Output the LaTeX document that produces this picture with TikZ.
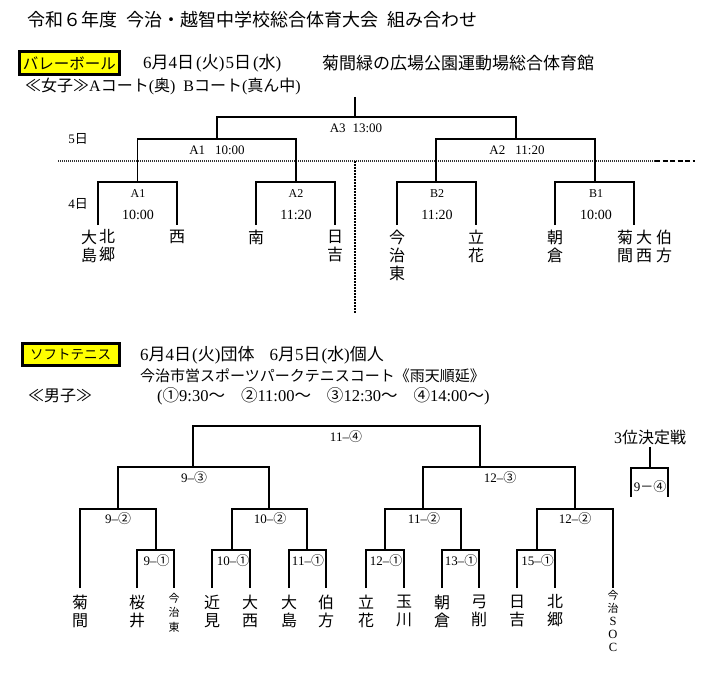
\documentclass[tikz,border=0pt]{standalone}
\usepackage{fontspec}
\setmainfont{Liberation Serif}
\newfontfamily\jp{Noto Sans CJK JP}
\newcommand\J[1]{{\jp #1}}
\definecolor{vy}{RGB}{255,255,0}
\begin{document}
\begin{tikzpicture}[x=1pt,y=-1pt,
  vb/.style={line width=1.6pt},
  tb/.style={line width=1.9pt},
  nm/.style={inner sep=0pt, align=center, font=\jp\fontsize{16}{18}\selectfont},
  lab/.style={inner sep=0pt, font=\fontsize{13}{13}\selectfont},
  hd/.style={inner sep=0pt, anchor=west},
  ybox/.style={draw, line width=3pt, fill=vy, inner sep=0pt},
  dotline/.style={line width=1.6pt, dash pattern=on 1.2pt off 0.8pt, black!80},
  dashline/.style={line width=1.6pt, dash pattern=on 5pt off 2.5pt},
  vdash/.style={line width=2pt, dash pattern=on 2pt off 1pt},
]
\useasboundingbox (0,0) rectangle (718,674);

% ---------- title ----------
\node[hd, font=\jp\fontsize{18}{18}\selectfont] (title) at (27,20)
  {令和６年度\hspace{9pt}今治・越智中学校総合体育大会\hspace{9pt}組み合わせ};

% ---------- volleyball header ----------
\node[ybox, minimum width=99.4pt, minimum height=23pt, font=\jp\fontsize{15.5}{15.5}\selectfont] (vbox) at (69.5,63) {バレーボール};
\node[hd, font=\fontsize{17}{17}\selectfont] (vdate) at (143,63) {6\J{月}4\J{日}\hspace{2pt}(\J{火})\hspace{1pt}5\J{日}\hspace{2pt}(\J{水})};
\node[hd, font=\jp\fontsize{17}{17}\selectfont] (vplace) at (322,63) {菊間緑の広場公園運動場総合体育館};
\node[hd, font=\fontsize{16}{16}\selectfont] (vcourt) at (25,86) {\J{≪女子≫}A\J{コート}(\J{奥})\hspace{8pt}B\J{コート}(\J{真ん中})};

% ---------- volleyball separators ----------
\coordinate (dl) at (58,161);
\coordinate (dm) at (655,161);
\coordinate (dr) at (695,161);
\coordinate (vdt) at (355,161);
\coordinate (vdb) at (355,313);
\draw[dotline] (dl) -- (dm);
\draw[dashline] (dm) -- (dr);
\draw[vdash] (vdt) -- (vdb);

% ---------- volleyball bracket ----------
\coordinate (vtop) at (355,97);
\coordinate (vF) at (355,117);
\coordinate (vS1) at (217,139);
\coordinate (vS2) at (516,139);
\coordinate (vQ1) at (137.5,182);
\coordinate (vQ2) at (296,182);
\coordinate (vQ3) at (436,182);
\coordinate (vQ4) at (595,182);
\coordinate (vL1) at (98,225);
\coordinate (vL2) at (177,225);
\coordinate (vL3) at (256,225);
\coordinate (vL4) at (335,225);
\coordinate (vL5) at (397,225);
\coordinate (vL6) at (476,225);
\coordinate (vL7) at (555,225);
\coordinate (vL8) at (634,225);

\draw[vb] (vtop) -- (vF);
\draw[vb] (vS1) |- (vF) -| (vS2);
\draw[vb] (vQ1) |- (vS1) -| (vQ2);
\draw[vb] (vQ3) |- (vS2) -| (vQ4);
\draw[vb] (vL1) |- (vQ1) -| (vL2);
\draw[vb] (vL3) |- (vQ2) -| (vL4);
\draw[vb] (vL5) |- (vQ3) -| (vL6);
\draw[vb] (vL7) |- (vQ4) -| (vL8);

% labels
\node[lab] (lA3) at (356,128) {A3\hspace{7pt}13:00};
\node[lab] (lA1b) at (217,150) {A1\hspace{10pt}10:00};
\node[lab] (lA2b) at (517,150) {A2\hspace{10pt}11:20};
\node[lab] (d5) at (78,139) {5\J{日}};
\node[lab] (d4) at (78,204) {4\J{日}};
\node[lab, font=\fontsize{12}{12}\selectfont] (lA1) at (138,194) {A1};
\node[lab, font=\fontsize{14}{14}\selectfont] (tA1) at (138,215) {10:00};
\node[lab, font=\fontsize{12}{12}\selectfont] (lA2) at (296,194) {A2};
\node[lab, font=\fontsize{14}{14}\selectfont] (tA2) at (296,215) {11:20};
\node[lab, font=\fontsize{12}{12}\selectfont] (lB2) at (437,194) {B2};
\node[lab, font=\fontsize{14}{14}\selectfont] (tB2) at (437,215) {11:20};
\node[lab, font=\fontsize{12}{12}\selectfont] (lB1) at (596,194) {B1};
\node[lab, font=\fontsize{14}{14}\selectfont] (tB1) at (596,215) {10:00};

% names
\node[nm] (vn1) at (89,246) {大\\島};
\node[nm] (vn2) at (107,246) {北\\郷};
\node[nm] (vn3) at (177,237) {西};
\node[nm] (vn4) at (256,237) {南};
\node[nm] (vn5) at (335,246) {日\\吉};
\node[nm] (vn6) at (397,255) {今\\治\\東};
\node[nm] (vn7) at (476,246) {立\\花};
\node[nm] (vn8) at (555,246) {朝\\倉};
\node[nm] (vn9) at (625,246) {菊\\間};
\node[nm] (vn10) at (644,246) {大\\西};
\node[nm] (vn11) at (664,246) {伯\\方};

% ---------- soft tennis header ----------
\node[ybox, minimum width=97pt, minimum height=22pt, font=\jp\fontsize{13.5}{13.5}\selectfont] (tbox) at (70.7,354.2) {ソフトテニス};
\node[hd, font=\fontsize{17}{17}\selectfont] (tdate) at (140,355) {6\J{月}4\J{日}\hspace{1pt}(\J{火})\J{団体}\hspace{15pt}6\J{月}5\J{日}\hspace{1pt}(\J{水})\J{個人}};
\node[hd, font=\jp\fontsize{15}{15}\selectfont] (tplace) at (140,376) {今治市営スポーツパークテニスコート《雨天順延》};
\node[hd, font=\jp\fontsize{16}{16}\selectfont] (tmen) at (28,396) {≪男子≫};
\node[hd, font=\fontsize{16.5}{16.5}\selectfont] (ttime) at (157,396) {(\J{①}9:30\J{～}\hspace{16pt}\J{②}11:00\J{～}\hspace{16pt}\J{③}12:30\J{～}\hspace{16pt}\J{④}14:00\J{～})};

% ---------- soft tennis bracket ----------
\coordinate (tF) at (336,426);
\coordinate (tS1) at (193,467);
\coordinate (tS2) at (480,467);
\coordinate (tQ1) at (118,509);
\coordinate (tQ2) at (269,509);
\coordinate (tQ3) at (423,509);
\coordinate (tQ4) at (575,509);
\coordinate (tR1) at (156,550);
\coordinate (tR2) at (232,550);
\coordinate (tR3) at (307,550);
\coordinate (tR4) at (385,550);
\coordinate (tR5) at (461,550);
\coordinate (tR6) at (537,550);
\coordinate (tL1) at (80,588);
\coordinate (tL2) at (137,588);
\coordinate (tL3) at (174,588);
\coordinate (tL4) at (212,588);
\coordinate (tL5) at (250,588);
\coordinate (tL6) at (289,588);
\coordinate (tL7) at (326,588);
\coordinate (tL8) at (366,588);
\coordinate (tL9) at (404,588);
\coordinate (tL10) at (442,588);
\coordinate (tL11) at (479,588);
\coordinate (tL12) at (517,588);
\coordinate (tL13) at (555,588);
\coordinate (tL14) at (613,588);

\draw[tb] (tS1) |- (tF) -| (tS2);
\draw[tb] (tQ1) |- (tS1) -| (tQ2);
\draw[tb] (tQ3) |- (tS2) -| (tQ4);
\draw[tb] (tL1) |- (tQ1) -| (tR1);
\draw[tb] (tR2) |- (tQ2) -| (tR3);
\draw[tb] (tR4) |- (tQ3) -| (tR5);
\draw[tb] (tR6) |- (tQ4) -| (tL14);
\draw[tb] (tL2) |- (tR1) -| (tL3);
\draw[tb] (tL4) |- (tR2) -| (tL5);
\draw[tb] (tL6) |- (tR3) -| (tL7);
\draw[tb] (tL8) |- (tR4) -| (tL9);
\draw[tb] (tL10) |- (tR5) -| (tL11);
\draw[tb] (tL12) |- (tR6) -| (tL13);

% match labels
\node[lab] (m114) at (346,437) {11–\J{④}};
\node[lab] (m93) at (194,478) {9–\J{③}};
\node[lab] (m123) at (500,478) {12–\J{③}};
\node[lab] (m92) at (118,519) {9–\J{②}};
\node[lab] (m102) at (270,519) {10–\J{②}};
\node[lab] (m112) at (424,519) {11–\J{②}};
\node[lab] (m122) at (575,519) {12–\J{②}};
\node[lab] (m91) at (156.5,561) {9–\J{①}};
\node[lab] (m101) at (233,561) {10–\J{①}};
\node[lab] (m111) at (308,561) {11–\J{①}};
\node[lab] (m121) at (386,561) {12–\J{①}};
\node[lab] (m131) at (461,561) {13–\J{①}};
\node[lab] (m151) at (537.5,561) {15–\J{①}};

% names
\node[nm] (tn1) at (80,611) {菊\\間};
\node[nm] (tn2) at (137,611) {桜\\井};
\node[nm, font=\jp\fontsize{11}{14.5}\selectfont] (tn3) at (174,612.5) {今\\治\\東};
\node[nm] (tn4) at (212,611) {近\\見};
\node[nm] (tn5) at (250,611) {大\\西};
\node[nm] (tn6) at (289,611) {大\\島};
\node[nm] (tn7) at (326,611) {伯\\方};
\node[nm] (tn8) at (366,611) {立\\花};
\node[nm] (tn9) at (404,611) {玉\\川};
\node[nm] (tn10) at (442,611) {朝\\倉};
\node[nm] (tn11) at (479,611) {弓\\削};
\node[nm] (tn12) at (517,611) {日\\吉};
\node[nm] (tn13) at (555,611) {北\\郷};
\node[nm, anchor=north, font=\fontsize{12.5}{13}\selectfont] (tn14) at (613,590) {\J{\fontsize{11}{13}\selectfont 今}\\\J{\fontsize{11}{13}\selectfont 治}\\S\\O\\C};

% third place
\node[inner sep=0pt, font=\fontsize{16}{16}\selectfont] (third) at (650,437) {3\J{位決定戦}};
\coordinate (t3M) at (650,468);
\coordinate (t3L) at (631,497);
\coordinate (t3R) at (668,497);
\draw[tb, shorten <=2pt] (third.south) -- (t3M);
\draw[tb] (t3L) |- (t3M) -| (t3R);
\node[lab] (m94) at (650,487) {9\J{－④}};
\end{tikzpicture}
\end{document}
